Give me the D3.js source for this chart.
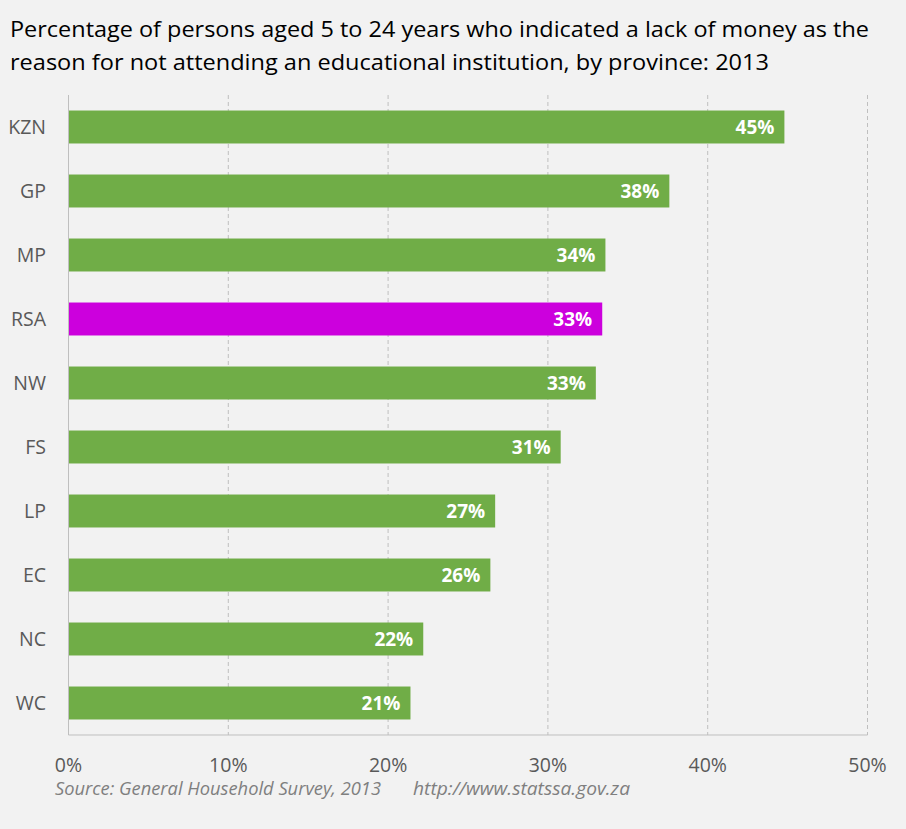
<!DOCTYPE html>
<html><head><meta charset="utf-8">
<script src="https://cdn.jsdelivr.net/npm/d3@7"></script>
<style>html,body{margin:0;padding:0;background:#f2f2f2;}svg{display:block;}</style>
</head><body>
<svg id="c" width="906" height="829"></svg>
<script>
const provinces = ["KZN","GP","MP","RSA","NW","FS","LP","EC","NC","WC"];
const values = [44.8, 37.6, 33.6, 33.4, 33.0, 30.8, 26.7, 26.4, 22.2, 21.4];
const valueLabels = ["45%","38%","34%","33%","33%","31%","27%","26%","22%","21%"];
const ticks = [0,10,20,30,40,50];
const tickLabels = ["0%","10%","20%","30%","40%","50%"];
const titleLines = ["Percentage of persons aged 5 to 24 years who indicated a lack of money as the",
  "reason for not attending an educational institution, by province: 2013"];
const source = ["Source: General Household Survey, 2013","http://www.statssa.gov.za"];

const svg = d3.select("#c");
svg.append("rect").attr("width",906).attr("height",829).attr("fill","#f2f2f2");

const x = d3.scaleLinear().domain([0,50]).range([68.5,867.5]);
const y = d3.scaleBand().domain(provinces).range([95,735]).paddingInner(0.485).paddingOuter(0.2425);

// title
const titleWidths = [859, 759];
svg.selectAll("text.title").data(titleLines).enter().append("text")
  .attr("class","title").attr("x",10).attr("y",(d,i)=>36.5+i*33.5)
  .attr("font-family","'Open Sans',sans-serif").attr("font-size",22.5).attr("fill","#000")
  .attr("textLength",(d,i)=>titleWidths[i]).attr("lengthAdjust","spacingAndGlyphs")
  .text(d=>d);

// gridlines
svg.append("g").selectAll("line").data(ticks.slice(1)).enter().append("line")
  .attr("x1",d=>x(d)).attr("x2",d=>x(d)).attr("y1",95).attr("y2",735)
  .attr("stroke","#bfbfbf").attr("stroke-width",1).attr("stroke-dasharray","4,3");

// bars
svg.append("g").selectAll("rect").data(provinces).enter().append("rect")
  .attr("x",x(0)).attr("y",d=>y(d)).attr("height",y.bandwidth())
  .attr("width",(d,i)=>x(values[i])-x(0))
  .attr("fill",d=>d==="RSA"?"#cc00dd":"#70ad47");

// axis lines
svg.append("line").attr("x1",x(0)).attr("x2",x(0)).attr("y1",95).attr("y2",735).attr("stroke","#bfbfbf");
svg.append("line").attr("x1",x(0)).attr("x2",x(50)).attr("y1",735).attr("y2",735).attr("stroke","#bfbfbf");

// value labels
svg.append("g").selectAll("text").data(provinces).enter().append("text")
  .attr("x",(d,i)=>x(values[i])-10).attr("y",d=>y(d)+y.bandwidth()/2)
  .attr("dy","0.36em").attr("text-anchor","end")
  .attr("font-family","'Open Sans',sans-serif").attr("font-weight","bold").attr("font-size",19)
  .attr("fill","#fff").text((d,i)=>valueLabels[i]);

// category labels
svg.append("g").selectAll("text").data(provinces).enter().append("text")
  .attr("x",46).attr("y",d=>y(d)+y.bandwidth()/2).attr("dy","0.37em").attr("text-anchor","end")
  .attr("font-family","'Open Sans',sans-serif").attr("font-size",19.5).attr("fill","#595959").text(d=>d);

// tick labels
svg.append("g").selectAll("text").data(ticks).enter().append("text")
  .attr("x",d=>x(d)).attr("y",772).attr("text-anchor","middle")
  .attr("font-family","'Open Sans',sans-serif").attr("font-size",19.5).attr("fill","#595959")
  .text((d,i)=>tickLabels[i]);

// source
const srcX = [55, 413], srcW = [326, 217];
svg.append("g").selectAll("text").data(source).enter().append("text")
  .attr("x",(d,i)=>srcX[i]).attr("y",795).attr("font-family","'Open Sans',sans-serif")
  .attr("font-style","italic").attr("font-size",18).attr("fill","#7f7f7f")
  .attr("textLength",(d,i)=>srcW[i]).attr("lengthAdjust","spacingAndGlyphs")
  .text(d=>d);
</script>
</body></html>
